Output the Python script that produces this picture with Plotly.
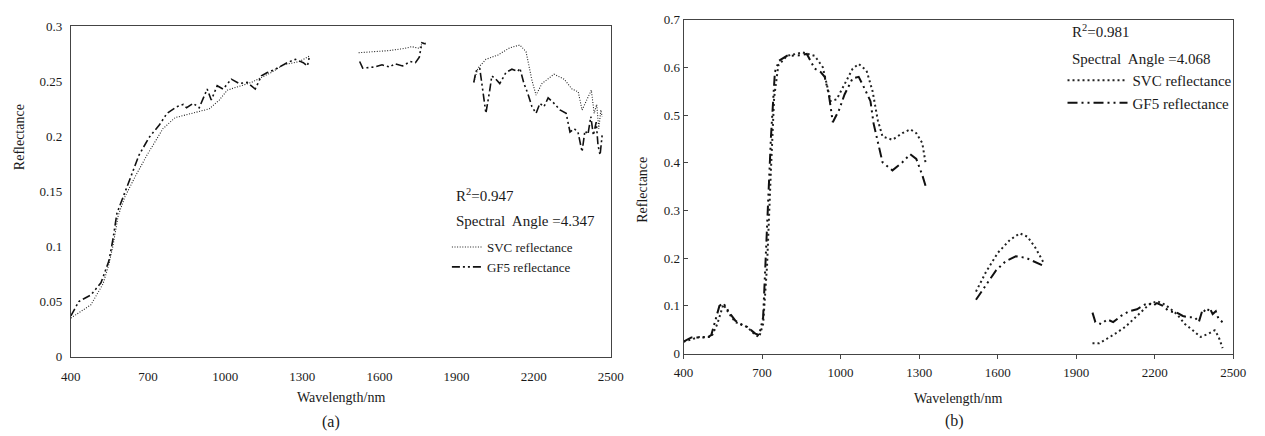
import plotly.graph_objects as go

# ---------------- data ----------------
# Panel (a)
a_svc_wl_1 = [400, 478, 525, 548, 564, 584, 610, 649, 696, 758, 805, 868, 938, 977, 1008, 1102, 1179, 1226, 1289, 1328]
a_svc_rf_1 = [0.035, 0.047, 0.066, 0.084, 0.101, 0.128, 0.145, 0.163, 0.183, 0.207, 0.217, 0.221, 0.225, 0.233, 0.242, 0.249, 0.258, 0.265, 0.268, 0.273]
a_svc_wl_2 = [1519, 1580, 1640, 1700, 1725, 1756, 1765, 1780]
a_svc_rf_2 = [0.276, 0.277, 0.278, 0.280, 0.2815, 0.280, 0.284, 0.285]
a_svc_wl_3 = [1967, 1983, 2014, 2061, 2107, 2146, 2170, 2193, 2209, 2232, 2279, 2318, 2349, 2373, 2388, 2411, 2424, 2435, 2445, 2453, 2461, 2466]
a_svc_rf_3 = [0.249, 0.262, 0.270, 0.274, 0.2805, 0.283, 0.277, 0.251, 0.2375, 0.248, 0.2565, 0.252, 0.243, 0.2405, 0.224, 0.236, 0.242, 0.221, 0.229, 0.207, 0.224, 0.218]

a_gf5_wl_1 = [400, 415, 431, 478, 517, 548, 564, 579, 603, 634, 665, 704, 743, 774, 798, 812, 837, 850, 876, 899, 930, 946, 969, 992, 1024, 1055, 1086, 1117, 1141, 1164, 1195, 1242, 1273, 1304, 1320, 1328]
a_gf5_rf_1 = [0.037, 0.044, 0.050, 0.056, 0.067, 0.087, 0.107, 0.130, 0.145, 0.163, 0.183, 0.199, 0.210, 0.221, 0.225, 0.227, 0.229, 0.226, 0.230, 0.226, 0.243, 0.233, 0.246, 0.243, 0.252, 0.248, 0.249, 0.243, 0.255, 0.258, 0.261, 0.267, 0.270, 0.267, 0.264, 0.273]
a_gf5_wl_2 = [1523, 1535, 1580, 1610, 1640, 1660, 1690, 1720, 1740, 1755, 1765, 1780]
a_gf5_rf_2 = [0.268, 0.262, 0.263, 0.265, 0.263, 0.266, 0.264, 0.268, 0.267, 0.272, 0.285, 0.284]
a_gf5_wl_3 = [1967, 1975, 1990, 2006, 2014, 2029, 2037, 2053, 2068, 2092, 2115, 2138, 2146, 2162, 2177, 2193, 2209, 2224, 2240, 2256, 2279, 2302, 2326, 2341, 2357, 2372, 2388, 2399, 2411, 2422, 2432, 2443, 2450, 2458, 2466]
a_gf5_rf_3 = [0.249, 0.259, 0.262, 0.233, 0.221, 0.242, 0.255, 0.252, 0.248, 0.258, 0.261, 0.259, 0.262, 0.248, 0.239, 0.227, 0.221, 0.230, 0.227, 0.235, 0.230, 0.224, 0.221, 0.204, 0.207, 0.204, 0.186, 0.205, 0.202, 0.218, 0.201, 0.213, 0.192, 0.183, 0.201]

# Panel (b)
b_svc_wl_1 = [400, 461, 506, 529, 552, 575, 598, 643, 674, 689, 704, 719, 734, 746, 762, 795, 856, 901, 932, 947, 962, 985, 1015, 1046, 1069, 1099, 1122, 1142, 1160, 1198, 1236, 1266, 1289, 1312, 1324]
b_svc_rf_1 = [0.025, 0.035, 0.035, 0.062, 0.103, 0.083, 0.066, 0.056, 0.039, 0.035, 0.062, 0.184, 0.387, 0.536, 0.604, 0.624, 0.631, 0.624, 0.600, 0.563, 0.529, 0.533, 0.563, 0.597, 0.607, 0.593, 0.550, 0.489, 0.455, 0.448, 0.462, 0.470, 0.462, 0.441, 0.401]
b_svc_wl_2 = [1517, 1555, 1600, 1646, 1684, 1714, 1745, 1775]
b_svc_rf_2 = [0.130, 0.171, 0.211, 0.238, 0.252, 0.245, 0.221, 0.191]
b_svc_wl_3 = [1962, 1988, 2041, 2087, 2132, 2178, 2208, 2239, 2284, 2315, 2345, 2375, 2406, 2429, 2444, 2459]
b_svc_rf_3 = [0.022, 0.022, 0.039, 0.056, 0.079, 0.103, 0.110, 0.103, 0.083, 0.062, 0.049, 0.035, 0.042, 0.049, 0.035, 0.0115]

b_gf5_wl_1 = [400, 430, 491, 506, 537, 552, 575, 598, 628, 643, 674, 689, 704, 719, 734, 749, 765, 795, 841, 871, 886, 901, 924, 939, 955, 970, 993, 1015, 1046, 1069, 1091, 1114, 1126, 1142, 1160, 1198, 1236, 1266, 1289, 1312, 1327]
b_gf5_rf_1 = [0.025, 0.034, 0.034, 0.039, 0.100, 0.106, 0.086, 0.069, 0.059, 0.056, 0.042, 0.039, 0.076, 0.252, 0.455, 0.590, 0.614, 0.624, 0.625, 0.628, 0.614, 0.597, 0.590, 0.580, 0.543, 0.485, 0.509, 0.543, 0.577, 0.580, 0.556, 0.529, 0.482, 0.441, 0.401, 0.384, 0.401, 0.418, 0.408, 0.374, 0.347]
b_gf5_wl_2 = [1517, 1555, 1593, 1631, 1669, 1707, 1745, 1775]
b_gf5_rf_2 = [0.113, 0.144, 0.174, 0.194, 0.204, 0.201, 0.191, 0.184]
b_gf5_wl_3 = [1962, 1973, 1996, 2018, 2041, 2071, 2102, 2132, 2163, 2178, 2193, 2208, 2231, 2254, 2284, 2307, 2330, 2353, 2368, 2383, 2398, 2409, 2421, 2433, 2444, 2459]
b_gf5_rf_3 = [0.086, 0.066, 0.062, 0.072, 0.066, 0.079, 0.089, 0.093, 0.103, 0.106, 0.100, 0.106, 0.100, 0.089, 0.086, 0.079, 0.076, 0.076, 0.066, 0.093, 0.086, 0.096, 0.083, 0.089, 0.072, 0.066]

x_ticks = [400, 700, 1000, 1300, 1600, 1900, 2200, 2500]
a_y_ticks = [0, 0.05, 0.1, 0.15, 0.2, 0.25, 0.3]
a_y_labels = ["0", "0.05", "0.1", "0.15", "0.2", "0.25", "0.3"]
b_y_ticks = [0, 0.1, 0.2, 0.3, 0.4, 0.5, 0.6, 0.7]
b_y_labels = ["0", "0.1", "0.2", "0.3", "0.4", "0.5", "0.6", "0.7"]

series_names = ["SVC reflectance", "GF5 reflectance"]
a_stats = ["R<sup>2</sup>=0.947", "Spectral\u00a0 Angle =4.347"]
b_stats = ["R<sup>2</sup>=0.981", "Spectral\u00a0 Angle =4.068"]


def join(*segs):
    xs, ys = [], []
    for i in range(0, len(segs), 2):
        if xs:
            xs.append(None)
            ys.append(None)
        xs += segs[i]
        ys += segs[i + 1]
    return xs, ys


FONT = "Liberation Serif, Times New Roman, serif"
INK = "#1a1a1a"

fig = go.Figure()

ax, ay = join(a_svc_wl_1, a_svc_rf_1, a_svc_wl_2, a_svc_rf_2, a_svc_wl_3, a_svc_rf_3)
fig.add_trace(go.Scatter(x=ax, y=ay, mode="lines", name=series_names[0], xaxis="x", yaxis="y",
                         line=dict(color="#222", width=1.1, dash="1px,1.6px"), legend="legend", connectgaps=False))
ax, ay = join(a_gf5_wl_1, a_gf5_rf_1, a_gf5_wl_2, a_gf5_rf_2, a_gf5_wl_3, a_gf5_rf_3)
fig.add_trace(go.Scatter(x=ax, y=ay, mode="lines", name=series_names[1], xaxis="x", yaxis="y",
                         line=dict(color="#111", width=1.6, dash="8px,3px,2px,3px,2px,3px"), legend="legend", connectgaps=False))

bx, by = join(b_svc_wl_1, b_svc_rf_1, b_svc_wl_2, b_svc_rf_2, b_svc_wl_3, b_svc_rf_3)
fig.add_trace(go.Scatter(x=bx, y=by, mode="lines", name=series_names[0], xaxis="x2", yaxis="y2",
                         line=dict(color="#222", width=2, dash="2px,3px"), legend="legend2", connectgaps=False))
bx, by = join(b_gf5_wl_1, b_gf5_rf_1, b_gf5_wl_2, b_gf5_rf_2, b_gf5_wl_3, b_gf5_rf_3)
fig.add_trace(go.Scatter(x=bx, y=by, mode="lines", name=series_names[1], xaxis="x2", yaxis="y2",
                         line=dict(color="#111", width=2, dash="10px,4px,2px,4px,2px,4px"), legend="legend2", connectgaps=False))

W, H = 1265, 436


def px(x):
    return x / W


def py(y):
    return 1 - y / H


axis_common = dict(showline=True, mirror=True, linecolor="#444", linewidth=1, showgrid=False, zeroline=False,
                   tickfont=dict(family=FONT, size=13, color=INK))

fig.update_layout(
    width=W, height=H, margin=dict(l=0, r=0, t=0, b=0),
    paper_bgcolor="white", plot_bgcolor="white",
    font=dict(family=FONT, color=INK),
    xaxis=dict(domain=[px(62), px(612)], range=[400, 2500], tickvals=x_ticks, ticks="", ticklabelstandoff=8,
               anchor="y", **axis_common),
    yaxis=dict(domain=[py(362), py(20)], range=[0, 0.3], tickvals=a_y_ticks, ticktext=a_y_labels, ticks="",
               ticklabelstandoff=5, anchor="x", **axis_common),
    xaxis2=dict(domain=[px(686), px(1246)], range=[400, 2500], tickvals=x_ticks, ticks="outside", ticklen=4,
                tickcolor="#444", ticklabelstandoff=3, anchor="y2", **axis_common),
    yaxis2=dict(domain=[py(359), py(13)], range=[0, 0.7], tickvals=b_y_ticks, ticktext=b_y_labels, ticks="inside",
                ticklen=4, tickcolor="#444", anchor="x2", **axis_common),
    legend=dict(x=px(445), y=py(233), xanchor="left", yanchor="top", bgcolor="rgba(0,0,0,0)",
                font=dict(family=FONT, size=13, color=INK), itemwidth=30, tracegroupgap=2),
    legend2=dict(x=px(1072), y=py(59), xanchor="left", yanchor="top", bgcolor="rgba(0,0,0,0)",
                 font=dict(family=FONT, size=15, color=INK), itemwidth=60, tracegroupgap=7),
    showlegend=True,
)

ann = []
# statistics text
ann.append(dict(text=a_stats[0], x=px(452), y=py(195), xref="paper", yref="paper", xanchor="left", yanchor="middle", showarrow=False, font=dict(family=FONT, size=15, color=INK)))
ann.append(dict(text=a_stats[1], x=px(452), y=py(222), xref="paper", yref="paper", xanchor="left", yanchor="middle", showarrow=False, font=dict(family=FONT, size=15, color=INK)))
ann.append(dict(text=b_stats[0], x=px(1080), y=py(25), xref="paper", yref="paper", xanchor="left", yanchor="middle", showarrow=False, font=dict(family=FONT, size=15, color=INK)))
ann.append(dict(text=b_stats[1], x=px(1080), y=py(54), xref="paper", yref="paper", xanchor="left", yanchor="middle", showarrow=False, font=dict(family=FONT, size=15, color=INK)))
# axis titles
ann.append(dict(text="Wavelength/nm", x=px(337), y=py(404), xref="paper", yref="paper", xanchor="center", yanchor="middle", showarrow=False, font=dict(family=FONT, size=14, color=INK)))
ann.append(dict(text="Wavelength/nm", x=px(966), y=py(405), xref="paper", yref="paper", xanchor="center", yanchor="middle", showarrow=False, font=dict(family=FONT, size=14, color=INK)))
ann.append(dict(text="Reflectance", x=px(10), y=py(135), xref="paper", yref="paper", xanchor="center", yanchor="middle", textangle=-90, showarrow=False, font=dict(family=FONT, size=14, color=INK)))
ann.append(dict(text="Reflectance", x=px(644), y=py(189), xref="paper", yref="paper", xanchor="center", yanchor="middle", textangle=-90, showarrow=False, font=dict(family=FONT, size=14, color=INK)))
# captions
ann.append(dict(text="(a)", x=px(327), y=py(430), xref="paper", yref="paper", xanchor="center", yanchor="middle", showarrow=False, font=dict(family=FONT, size=16, color=INK)))
ann.append(dict(text="(b)", x=px(962), y=py(429), xref="paper", yref="paper", xanchor="center", yanchor="middle", showarrow=False, font=dict(family=FONT, size=16, color=INK)))
fig.update_layout(annotations=ann)

fig.write_html("out.html")
